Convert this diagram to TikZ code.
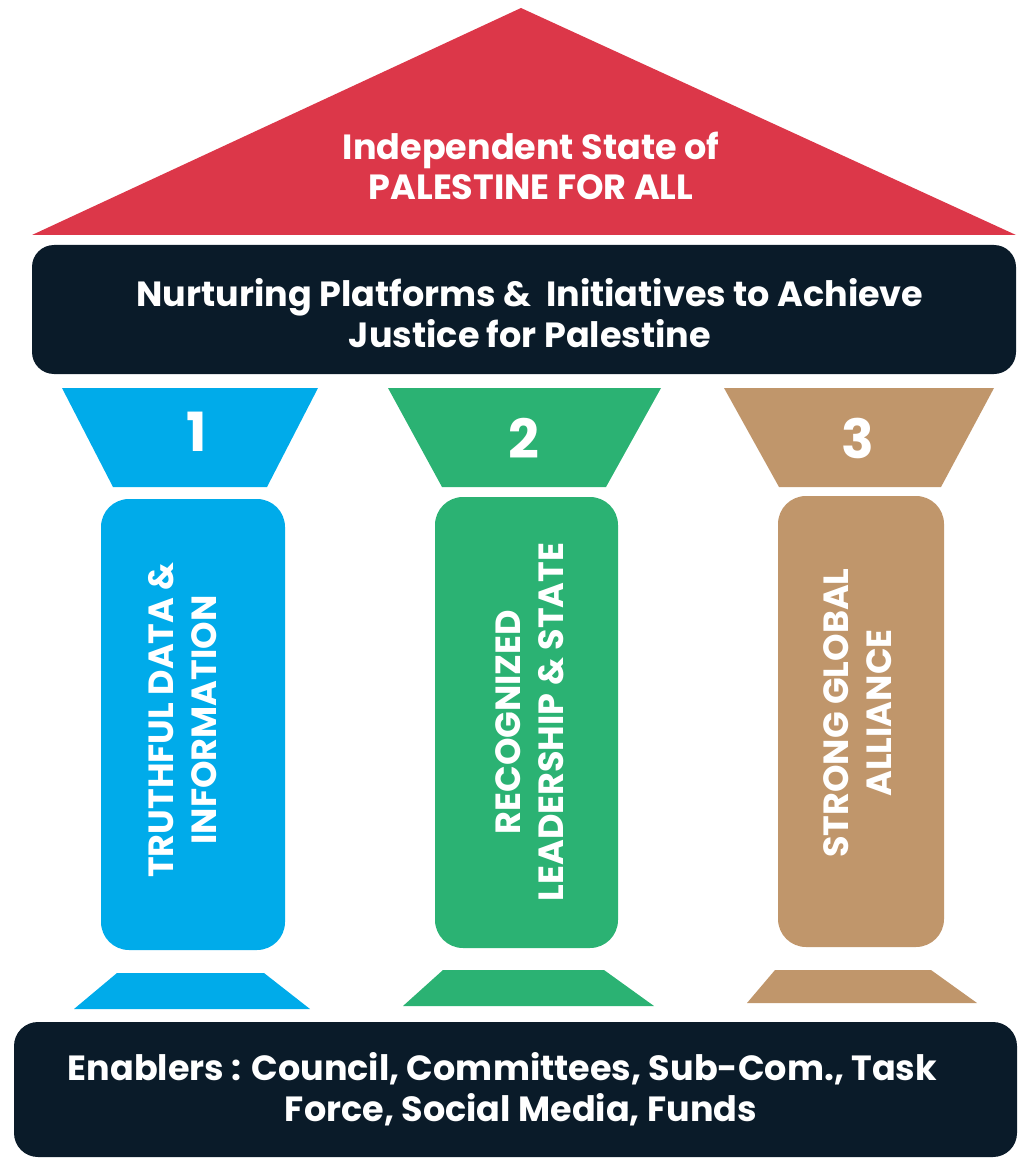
\documentclass[tikz,border=0pt]{standalone}
\usepackage{fontspec}
\setmainfont{Poppins}
\definecolor{roofred}{HTML}{DC3749}
\definecolor{navy}{HTML}{0A1B29}
\definecolor{pblue}{HTML}{00ABEA}
\definecolor{pgreen}{HTML}{2BB273}
\definecolor{ptan}{HTML}{C0966B}
\tikzset{
  bigtxt/.style={text=white,font=\bfseries\fontsize{35}{40.5}\selectfont,align=center,inner sep=0pt},
  pillartxt/.style={text=white,font=\bfseries\fontsize{35}{43}\selectfont,align=center,inner sep=0pt,rotate=90},
  numtxt/.style={text=white,font=\bfseries\fontsize{54}{60}\selectfont,inner sep=0pt},
}
\begin{document}
\begin{tikzpicture}[x=1pt,y=-1pt]
\useasboundingbox (0,0) rectangle (1019,1158);
% roof
\fill[roofred] (521,8) -- (1016,235) -- (32,235) -- cycle;
\node[bigtxt] (roof) at (531,166) {Independent State of\\PALESTINE FOR ALL};
% top bar
\fill[navy,rounded corners=22pt] (32,245) rectangle (1016,374);
\node[bigtxt] (plat) at (530,313) {Nurturing Platforms \&\ \ Initiatives to Achieve\\Justice for Palestine};
% capitals
\fill[pblue] (62,388) -- (318,388) -- (267,487) -- (113,487) -- cycle;
\fill[pgreen] (388,388) -- (661,388) -- (606,487) -- (442,487) -- cycle;
\fill[ptan] (724,388) -- (994,388) -- (941,487) -- (779,487) -- cycle;
\node[numtxt] (n1) at (197,432) {1};
\node[numtxt] (n2) at (524,438) {2};
\node[numtxt] (n3) at (858,438) {3};
% shafts
\fill[pblue,rounded corners=28pt] (101,499) rectangle (285,950);
\fill[pgreen,rounded corners=28pt] (435,497) rectangle (618,948);
\fill[ptan,rounded corners=28pt] (778,496) rectangle (944,947);
\node[pillartxt] (t1) at (183,720) {TRUTHFUL DATA \&\\INFORMATION};
\node[pillartxt] (t2) at (530,722) {RECOGNIZED\\LEADERSHIP \& STATE};
\node[pillartxt] (t3) at (858,713) {STRONG GLOBAL\\ALLIANCE};
% bases
\fill[pblue] (117,973) -- (264,973) -- (310,1009) -- (74,1009) -- cycle;
\fill[pgreen] (443,970) -- (604,970) -- (654,1006) -- (403,1006) -- cycle;
\fill[ptan] (775,970) -- (931,970) -- (977,1003) -- (747,1003) -- cycle;
% bottom bar
\fill[navy,rounded corners=24pt] (14,1022) rectangle (1017,1157);
\node[bigtxt] (enab) at (521,1089) {Enablers : Council, Committees, Sub-Com., Task\hspace*{37pt}\\Force, Social Media, Funds};
\end{tikzpicture}
\end{document}
